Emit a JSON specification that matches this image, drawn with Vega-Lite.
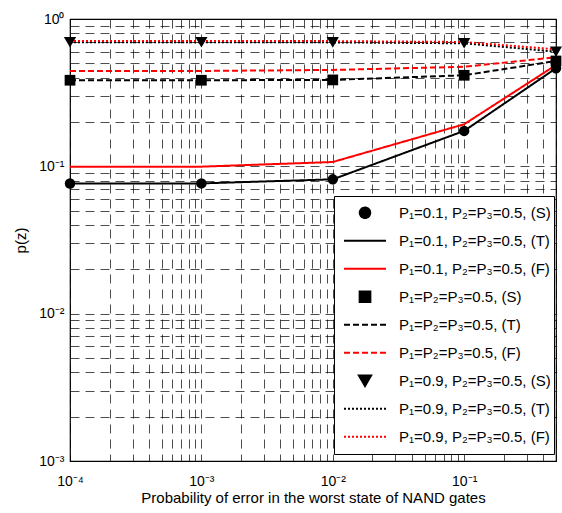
{
  "$schema": "https://vega.github.io/schema/vega-lite/v6.json",
  "autosize": "none",
  "padding": {"left": 70, "top": 19, "right": 6, "bottom": 52},
  "width": 486,
  "height": 442,
  "background": "white",
  "config": {
    "font": "Liberation Sans",
    "view": {"stroke": "black", "strokeWidth": 1.2},
    "axis": {
      "domain": false,
      "ticks": false,
      "grid": true,
      "gridColor": "black",
      "gridOpacity": 1,
      "gridWidth": 0.7,
      "gridDash": [9, 6],
      "labelFont": "Liberation Sans",
      "labelFontSize": 14,
      "labelColor": "black",
      "titleFont": "Liberation Sans",
      "titleFontSize": 15,
      "titleFontWeight": "normal",
      "titleColor": "black"
    }
  },
  "datasets": {
    "pts": [
      {"x": 0.0001, "y": 0.0764, "series": "P₁=0.1, P₂=P₃=0.5, (S)"},
      {"x": 0.001, "y": 0.0766, "series": "P₁=0.1, P₂=P₃=0.5, (S)"},
      {"x": 0.01, "y": 0.0816, "series": "P₁=0.1, P₂=P₃=0.5, (S)"},
      {"x": 0.1, "y": 0.174, "series": "P₁=0.1, P₂=P₃=0.5, (S)"},
      {"x": 0.5, "y": 0.463, "series": "P₁=0.1, P₂=P₃=0.5, (S)"},
      {"x": 0.0001, "y": 0.384, "series": "P₁=P₂=P₃=0.5, (S)"},
      {"x": 0.001, "y": 0.384, "series": "P₁=P₂=P₃=0.5, (S)"},
      {"x": 0.01, "y": 0.386, "series": "P₁=P₂=P₃=0.5, (S)"},
      {"x": 0.1, "y": 0.415, "series": "P₁=P₂=P₃=0.5, (S)"},
      {"x": 0.5, "y": 0.519, "series": "P₁=P₂=P₃=0.5, (S)"},
      {"x": 0.0001, "y": 0.695, "series": "P₁=0.9, P₂=P₃=0.5, (S)"},
      {"x": 0.001, "y": 0.695, "series": "P₁=0.9, P₂=P₃=0.5, (S)"},
      {"x": 0.01, "y": 0.694, "series": "P₁=0.9, P₂=P₃=0.5, (S)"},
      {"x": 0.1, "y": 0.684, "series": "P₁=0.9, P₂=P₃=0.5, (S)"},
      {"x": 0.5, "y": 0.6, "series": "P₁=0.9, P₂=P₃=0.5, (S)"}
    ],
    "curves": [
      {"x": 0.0001, "y": 0.0764, "series": "P₁=0.1, P₂=P₃=0.5, (T)"},
      {"x": 0.001, "y": 0.0766, "series": "P₁=0.1, P₂=P₃=0.5, (T)"},
      {"x": 0.01, "y": 0.0816, "series": "P₁=0.1, P₂=P₃=0.5, (T)"},
      {"x": 0.1, "y": 0.174, "series": "P₁=0.1, P₂=P₃=0.5, (T)"},
      {"x": 0.5, "y": 0.463, "series": "P₁=0.1, P₂=P₃=0.5, (T)"},
      {"x": 0.0001, "y": 0.384, "series": "P₁=P₂=P₃=0.5, (T)"},
      {"x": 0.001, "y": 0.384, "series": "P₁=P₂=P₃=0.5, (T)"},
      {"x": 0.01, "y": 0.386, "series": "P₁=P₂=P₃=0.5, (T)"},
      {"x": 0.1, "y": 0.415, "series": "P₁=P₂=P₃=0.5, (T)"},
      {"x": 0.5, "y": 0.519, "series": "P₁=P₂=P₃=0.5, (T)"},
      {"x": 0.0001, "y": 0.695, "series": "P₁=0.9, P₂=P₃=0.5, (T)"},
      {"x": 0.001, "y": 0.695, "series": "P₁=0.9, P₂=P₃=0.5, (T)"},
      {"x": 0.01, "y": 0.694, "series": "P₁=0.9, P₂=P₃=0.5, (T)"},
      {"x": 0.1, "y": 0.684, "series": "P₁=0.9, P₂=P₃=0.5, (T)"},
      {"x": 0.5, "y": 0.6, "series": "P₁=0.9, P₂=P₃=0.5, (T)"},
      {"x": 0.0001, "y": 0.0994, "series": "P₁=0.1, P₂=P₃=0.5, (F)"},
      {"x": 0.001, "y": 0.0995, "series": "P₁=0.1, P₂=P₃=0.5, (F)"},
      {"x": 0.01, "y": 0.107, "series": "P₁=0.1, P₂=P₃=0.5, (F)"},
      {"x": 0.1, "y": 0.193, "series": "P₁=0.1, P₂=P₃=0.5, (F)"},
      {"x": 0.5, "y": 0.487, "series": "P₁=0.1, P₂=P₃=0.5, (F)"},
      {"x": 0.0001, "y": 0.444, "series": "P₁=P₂=P₃=0.5, (F)"},
      {"x": 0.001, "y": 0.444, "series": "P₁=P₂=P₃=0.5, (F)"},
      {"x": 0.01, "y": 0.451, "series": "P₁=P₂=P₃=0.5, (F)"},
      {"x": 0.1, "y": 0.474, "series": "P₁=P₂=P₃=0.5, (F)"},
      {"x": 0.5, "y": 0.55, "series": "P₁=P₂=P₃=0.5, (F)"},
      {"x": 0.0001, "y": 0.709, "series": "P₁=0.9, P₂=P₃=0.5, (F)"},
      {"x": 0.001, "y": 0.709, "series": "P₁=0.9, P₂=P₃=0.5, (F)"},
      {"x": 0.01, "y": 0.708, "series": "P₁=0.9, P₂=P₃=0.5, (F)"},
      {"x": 0.1, "y": 0.698, "series": "P₁=0.9, P₂=P₃=0.5, (F)"},
      {"x": 0.5, "y": 0.623, "series": "P₁=0.9, P₂=P₃=0.5, (F)"}
    ]
  },
  "encoding": {
    "x": {
      "field": "x",
      "type": "quantitative",
      "scale": {"type": "log", "domain": [0.0001, 0.5], "nice": false},
      "axis": {
        "title": "Probability of error in the worst state of NAND gates",
        "titlePadding": 2,
        "labelPadding": 13,
        "values": [0.0001, 0.0002, 0.0003, 0.0004, 0.0005, 0.0006, 0.0007, 0.0008, 0.0009,
                   0.001, 0.002, 0.003, 0.004, 0.005, 0.006, 0.007, 0.008, 0.009,
                   0.01, 0.02, 0.03, 0.04, 0.05, 0.06, 0.07, 0.08, 0.09,
                   0.1, 0.2, 0.3, 0.4, 0.5],
        "labelExpr": "datum.value == 0.0001 ? '10⁻⁴' : datum.value == 0.001 ? '10⁻³' : datum.value == 0.01 ? '10⁻²' : datum.value == 0.1 ? '10⁻¹' : ''",
        "labelFlush": false,
        "labelOverlap": false
      }
    },
    "y": {
      "field": "y",
      "type": "quantitative",
      "scale": {"type": "log", "domain": [0.001, 1], "nice": false},
      "axis": {
        "title": "p(z)",
        "titlePadding": 10,
        "labelPadding": 6,
        "values": [0.001, 0.002, 0.003, 0.004, 0.005, 0.006, 0.007, 0.008, 0.009,
                   0.01, 0.02, 0.03, 0.04, 0.05, 0.06, 0.07, 0.08, 0.09,
                   0.1, 0.2, 0.3, 0.4, 0.5, 0.6, 0.7, 0.8, 0.9, 1],
        "labelExpr": "datum.value == 0.001 ? '10⁻³' : datum.value == 0.01 ? '10⁻²' : datum.value == 0.1 ? '10⁻¹' : datum.value == 1 ? '10⁰' : ''",
        "labelFlush": false,
        "labelOverlap": false
      }
    },
    "color": {
      "field": "series",
      "type": "nominal",
      "sort": null,
      "scale": {
        "domain": [
          "P₁=0.1, P₂=P₃=0.5, (S)", "P₁=0.1, P₂=P₃=0.5, (T)", "P₁=0.1, P₂=P₃=0.5, (F)",
          "P₁=P₂=P₃=0.5, (S)", "P₁=P₂=P₃=0.5, (T)", "P₁=P₂=P₃=0.5, (F)",
          "P₁=0.9, P₂=P₃=0.5, (S)", "P₁=0.9, P₂=P₃=0.5, (T)", "P₁=0.9, P₂=P₃=0.5, (F)"
        ],
        "range": ["black", "black", "#ff0000", "black", "black", "#ff0000", "black", "black", "#ff0000"]
      },
      "legend": {
        "title": null,
        "orient": "none",
        "legendX": 264,
        "legendY": 177,
        "padding": 3,
        "strokeColor": "black",
        "fillColor": "white",
        "cornerRadius": 0,
        "labelFont": "Liberation Sans",
        "labelFontSize": 15,
        "labelColor": "black",
        "labelLimit": 300,
        "labelOffset": 12,
        "symbolOffset": 6,
        "symbolStrokeWidth": 2,
        "symbolOpacity": 1,
        "clipHeight": 27.5,
        "rowPadding": 0
      }
    }
  },
  "layer": [
    {
      "data": {"name": "curves"},
      "mark": {"type": "line", "strokeWidth": 2},
      "encoding": {
        "strokeDash": {
          "field": "series",
          "type": "nominal",
          "sort": null,
          "scale": {
            "domain": [
              "P₁=0.1, P₂=P₃=0.5, (S)", "P₁=0.1, P₂=P₃=0.5, (T)", "P₁=0.1, P₂=P₃=0.5, (F)",
              "P₁=P₂=P₃=0.5, (S)", "P₁=P₂=P₃=0.5, (T)", "P₁=P₂=P₃=0.5, (F)",
              "P₁=0.9, P₂=P₃=0.5, (S)", "P₁=0.9, P₂=P₃=0.5, (T)", "P₁=0.9, P₂=P₃=0.5, (F)"
            ],
            "range": [[1, 0], [1, 0], [1, 0], [1, 0], [6, 3], [6, 3], [1, 0], [2, 2], [2, 2]]
          },
          "legend": {"title": null}
        }
      }
    },
    {
      "data": {"name": "pts"},
      "mark": {"type": "point", "filled": true, "opacity": 1},
      "encoding": {
        "shape": {
          "field": "series",
          "type": "nominal",
          "sort": null,
          "scale": {
            "domain": [
              "P₁=0.1, P₂=P₃=0.5, (S)", "P₁=0.1, P₂=P₃=0.5, (T)", "P₁=0.1, P₂=P₃=0.5, (F)",
              "P₁=P₂=P₃=0.5, (S)", "P₁=P₂=P₃=0.5, (T)", "P₁=P₂=P₃=0.5, (F)",
              "P₁=0.9, P₂=P₃=0.5, (S)", "P₁=0.9, P₂=P₃=0.5, (T)", "P₁=0.9, P₂=P₃=0.5, (F)"
            ],
            "range": ["circle", "stroke", "stroke", "square", "stroke", "stroke", "triangle-down", "stroke", "stroke"]
          },
          "legend": {"title": null}
        },
        "size": {
          "field": "series",
          "type": "nominal",
          "sort": null,
          "scale": {
            "type": "ordinal",
            "domain": [
              "P₁=0.1, P₂=P₃=0.5, (S)", "P₁=0.1, P₂=P₃=0.5, (T)", "P₁=0.1, P₂=P₃=0.5, (F)",
              "P₁=P₂=P₃=0.5, (S)", "P₁=P₂=P₃=0.5, (T)", "P₁=P₂=P₃=0.5, (F)",
              "P₁=0.9, P₂=P₃=0.5, (S)", "P₁=0.9, P₂=P₃=0.5, (T)", "P₁=0.9, P₂=P₃=0.5, (F)"
            ],
            "range": [110, 1764, 1764, 115, 1764, 1764, 150, 1764, 1764]
          },
          "legend": {"title": null}
        }
      }
    }
  ]
}
